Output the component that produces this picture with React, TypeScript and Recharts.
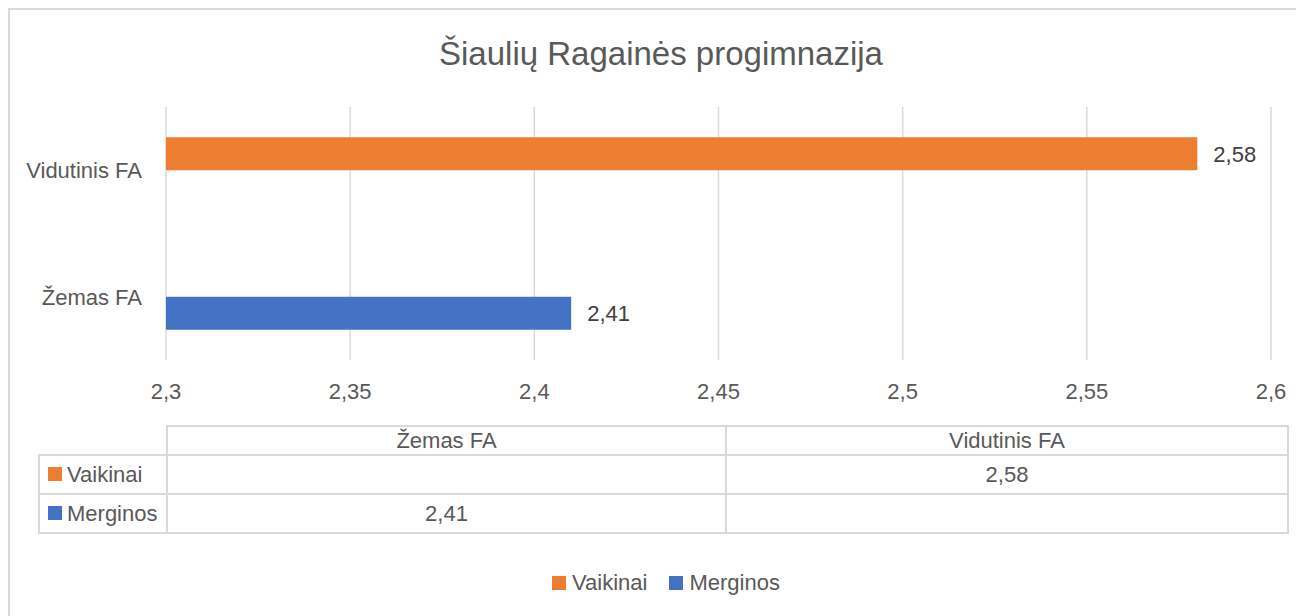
import { BarChart, Bar, XAxis, YAxis, CartesianGrid, Legend, LabelList } from 'recharts';

// categories in the original sheet order (Excel draws the first one at the bottom)
const categories = ['Žemas FA', 'Vidutinis FA'];
const vaikinai: (number | null)[] = [null, 2.58];
const merginos: (number | null)[] = [2.41, null];
const xTicks = [2.3, 2.35, 2.4, 2.45, 2.5, 2.55, 2.6];

const series = [
    { key: 'vaikinai', name: 'Vaikinai', color: '#ED7D31', values: vaikinai },
    { key: 'merginos', name: 'Merginos', color: '#4472C4', values: merginos },
];

const data = categories.map((c, i) => ({ category: c, vaikinai: vaikinai[i], merginos: merginos[i] }));

const FONT = "'Liberation Sans', Arial, sans-serif";
const TEXT = '#595959';
const GRID = '#d9d9d9';
const FS = 22;

const fmt = (v: any) => (v == null ? '' : String(Math.round(Number(v) * 100) / 100).replace('.', ','));

function DataTable() {
    const border = `2px solid ${GRID}`;
    return (
        <table
            style={{
                position: 'absolute', left: 30, top: 417, borderCollapse: 'collapse', tableLayout: 'fixed',
                width: 1249, fontFamily: FONT, fontSize: FS, color: TEXT,
            }}
        >
            <colgroup>
                <col style={{ width: 128 }} />
                <col style={{ width: 559 }} />
                <col style={{ width: 562 }} />
            </colgroup>
            <thead>
                <tr style={{ height: 29 }}>
                    <th style={{ border: 'none', padding: 0 }} />
                    {categories.map((c) => (
                        <th key={c} style={{ border, fontWeight: 400, padding: 0 }}>{c}</th>
                    ))}
                </tr>
            </thead>
            <tbody>
                {series.map((s) => (
                    <tr key={s.key} style={{ height: 39 }}>
                        <td style={{ border, padding: '0 0 0 8px', whiteSpace: 'nowrap' }}>
                            <span style={{ display: 'inline-block', width: 14, height: 14, background: s.color, marginRight: 5, verticalAlign: 'middle', position: 'relative', top: -2 }} />
                            {s.name}
                        </td>
                        {s.values.map((v, i) => (
                            <td key={i} style={{ border, textAlign: 'center', padding: 0 }}>{fmt(v)}</td>
                        ))}
                    </tr>
                ))}
            </tbody>
        </table>
    );
}

export default function App() {
    return (
        <div style={{ position: 'relative', width: 1296, height: 608, overflow: 'hidden', background: '#fff' }}>
            <BarChart
                width={1296}
                height={608}
                data={data}
                layout="vertical"
                margin={{ top: 99, right: 33, left: 0, bottom: 216 }}
                barCategoryGap="24%"
                barGap={0}
            >
                <CartesianGrid horizontal={false} stroke={GRID} strokeWidth={1.5} />
                <XAxis
                    type="number"
                    domain={[2.3, 2.6]}
                    ticks={xTicks}
                    allowDataOverflow
                    axisLine={false}
                    tickLine={false}
                    tickSize={0}
                    tickMargin={23}
                    height={40}
                    tickFormatter={fmt}
                    tick={{ fill: TEXT, fontSize: FS, fontFamily: FONT }}
                />
                <YAxis
                    type="category"
                    dataKey="category"
                    reversed
                    width={158}
                    axisLine={false}
                    tickLine={false}
                    tickSize={0}
                    tickMargin={24}
                    tick={{ fill: TEXT, fontSize: FS, fontFamily: FONT }}
                />
                <Legend
                    verticalAlign="middle"
                    align="center"
                    layout="horizontal"
                    wrapperStyle={{ top: 560, left: 544, width: 320, height: 30 }}
                    content={() => (
                        <div style={{ display: 'flex', alignItems: 'center', height: 30, fontFamily: FONT, fontSize: FS, color: TEXT }}>
                            {series.map((s) => (
                                <div key={s.key} style={{ display: 'flex', alignItems: 'center', marginRight: 22 }}>
                                    <span style={{ display: 'inline-block', width: 14, height: 14, background: s.color, marginRight: 6 }} />
                                    <span>{s.name}</span>
                                </div>
                            ))}
                        </div>
                    )}
                />
                {series.map((s) => (
                    <Bar key={s.key} dataKey={s.key} name={s.name} fill={s.color} isAnimationActive={false}>
                        <LabelList
                            dataKey={s.key}
                            position="right"
                            offset={16}
                            formatter={fmt}
                            fill="#404040"
                            fontSize={FS}
                            fontFamily={FONT}
                        />
                    </Bar>
                ))}
            </BarChart>
            <div
                style={{
                    position: 'absolute', top: 29, left: 0, width: 1306, textAlign: 'center',
                    fontFamily: FONT, fontSize: 33, lineHeight: '33px', color: TEXT,
                }}
            >
                Šiaulių Ragainės progimnazija
            </div>
            <DataTable />
            <div
                style={{
                    position: 'absolute', left: 0, top: 0, width: 1320, height: 640,
                    border: `2px solid ${GRID}`, boxSizing: 'border-box', pointerEvents: 'none',
                }}
            />
        </div>
    );
}
